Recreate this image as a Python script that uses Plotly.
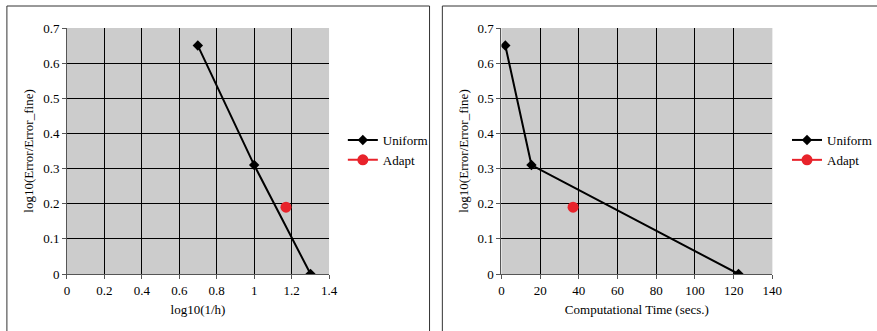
import plotly.graph_objects as go

# Convergence data
h_log = [0.699, 1.0, 1.301]
uniform_err = [0.65, 0.31, 0.0]
adapt_h_log = [1.17]
adapt_err = [0.19]

time_uniform = [2.0, 15.5, 122.5]
time_adapt = [37.0]

x1_ticks = [0, 0.2, 0.4, 0.6, 0.8, 1, 1.2, 1.4]
x2_ticks = [0, 20, 40, 60, 80, 100, 120, 140]
y_ticks = [0, 0.1, 0.2, 0.3, 0.4, 0.5, 0.6, 0.7]

W, H = 877, 331
FONT = "'Liberation Serif', 'Times New Roman', Times, serif"
BG = "#cccccc"
RED = "#e8232b"

fig = go.Figure()

fig.add_trace(go.Scatter(x=h_log, y=uniform_err, mode="lines+markers", name="Uniform",
                         line=dict(color="black", width=2),
                         marker=dict(symbol="diamond", size=8, color="black"),
                         xaxis="x", yaxis="y", legend="legend"))
fig.add_trace(go.Scatter(x=adapt_h_log, y=adapt_err, mode="lines+markers", name="Adapt",
                         line=dict(color=RED, width=2),
                         marker=dict(symbol="circle", size=11, color=RED),
                         xaxis="x", yaxis="y", legend="legend"))
fig.add_trace(go.Scatter(x=time_uniform, y=uniform_err, mode="lines+markers", name="Uniform",
                         line=dict(color="black", width=2),
                         marker=dict(symbol="diamond", size=8, color="black"),
                         xaxis="x2", yaxis="y2", legend="legend2"))
fig.add_trace(go.Scatter(x=time_adapt, y=adapt_err, mode="lines+markers", name="Adapt",
                         line=dict(color=RED, width=2),
                         marker=dict(symbol="circle", size=11, color=RED),
                         xaxis="x2", yaxis="y2", legend="legend2"))

ydom = [1 - 274 / H, 1 - 28 / H]
axis_common = dict(showgrid=True, gridcolor="black", gridwidth=1, zeroline=False,
                   showline=True, linecolor="#555555", linewidth=1,
                   ticks="outside", ticklen=4, tickcolor="#555555", automargin=False,
                   tickfont=dict(family=FONT, size=13, color="black"))

fig.update_layout(
    width=W, height=H,
    margin=dict(l=0, r=0, t=0, b=0),
    paper_bgcolor="white",
    plot_bgcolor=BG,
    font=dict(family=FONT, size=13, color="black"),
    xaxis=dict(domain=[68 / W, 334 / W], range=[0, 1.4], tickvals=x1_ticks,
               ticktext=[str(v) for v in x1_ticks], anchor="y",
               title=dict(text="log10(1/h)", font=dict(family=FONT, size=13), standoff=8),
               **axis_common),
    yaxis=dict(domain=ydom, range=[0, 0.7], tickvals=y_ticks,
               ticktext=[str(v) for v in y_ticks], anchor="x",
               title=dict(text="log10(Error/Error_fine)", font=dict(family=FONT, size=13), standoff=6),
               **axis_common),
    xaxis2=dict(domain=[509 / W, 784 / W], range=[0, 140], tickvals=x2_ticks, anchor="y2",
                title=dict(text="Computational Time (secs.)", font=dict(family=FONT, size=13), standoff=8),
                **axis_common),
    yaxis2=dict(domain=ydom, range=[0, 0.7], tickvals=y_ticks,
                ticktext=[str(v) for v in y_ticks], anchor="x2",
                title=dict(text="log10(Error/Error_fine)", font=dict(family=FONT, size=13), standoff=6),
                **axis_common),
    legend=dict(x=348 / W, y=1 - 150 / H, xanchor="left", yanchor="middle",
                bgcolor="rgba(0,0,0,0)", font=dict(family=FONT, size=13),
                itemwidth=30, tracegroupgap=0),
    legend2=dict(x=799 / W, y=1 - 150 / H, xanchor="left", yanchor="middle",
                 bgcolor="rgba(0,0,0,0)", font=dict(family=FONT, size=13),
                 itemwidth=30, tracegroupgap=0),
    shapes=[
        dict(type="rect", xref="paper", yref="paper", x0=7 / W, x1=436 / W,
             y0=-0.1, y1=1 - 6 / H, line=dict(color="#333333", width=1)),
        dict(type="rect", xref="paper", yref="paper", x0=449 / W, x1=1.1,
             y0=-0.1, y1=1 - 6 / H, line=dict(color="#333333", width=1)),
    ],
)

fig.write_html("out.html")
